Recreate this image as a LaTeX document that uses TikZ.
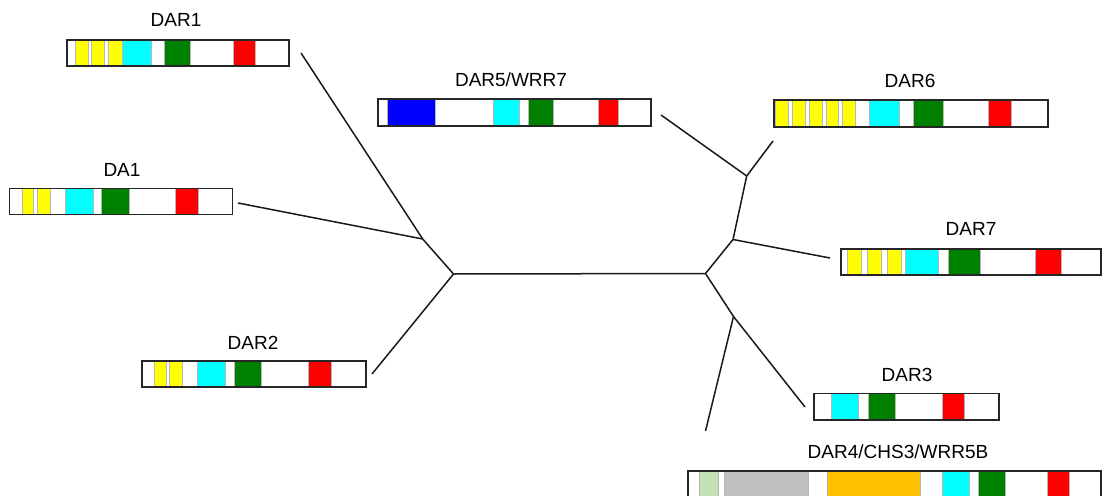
\documentclass[tikz,border=0pt]{standalone}
\usepackage{fontspec}
\setmainfont{Liberation Sans}
\definecolor{dyellow}{HTML}{FFFF00}
\definecolor{dcyan}{HTML}{00FFFF}
\definecolor{dgreen}{HTML}{008000}
\definecolor{dred}{HTML}{FF0000}
\definecolor{dblue}{HTML}{0000FF}
\definecolor{dpale}{HTML}{C5E0B4}
\definecolor{dgrey}{HTML}{BFBFBF}
\definecolor{dorange}{HTML}{FFC000}
% filled domain blocks of one bar: top, bottom, list of x1/x2/colour
\newcommand\domainsegs[3]{%
  \foreach \xa/\xb/\col in {#3} {\filldraw[seg, fill=\col] (\xa,#1) rectangle (\xb,#2);}}
\begin{document}
\begin{tikzpicture}[x=1pt,y=-1pt,
  branch/.style={line width=1.5pt, draw=black!90},
  frame/.style={draw=black!85, line width=1.8pt, fill=none, inner sep=0pt, outer sep=0pt, anchor=north west},
  seg/.style={draw=black!28, line width=0.6pt},
  lbl/.style={font=\fontsize{19}{19}\selectfont, inner sep=0pt}]
\useasboundingbox (0,0) rectangle (1102,495);
\clip (0,0) rectangle (1102,495);

% ---- DAR1
\domainsegs{40}{66}{75.3/88/dyellow, 91.7/104.3/dyellow, 108.7/122/dyellow, 122.7/151.3/dcyan, 164/190.7/dgreen, 233/255/dred}
\node[frame, minimum width=222pt, minimum height=26pt] (dar1) at (67,40) {};
\node[lbl] (ldar1) at (176,20) {DAR1};

% ---- DA1
\domainsegs{188.5}{214.5}{22.3/33.7/dyellow, 37/50/dyellow, 65/93/dcyan, 101.7/129/dgreen, 175.7/198/dred}
\node[frame, minimum width=223pt, minimum height=26pt] (da1) at (9.5,188.5) {};
\node[lbl] (lda1) at (122,170) {DA1};

% ---- DAR2
\domainsegs{361}{387}{154.7/166/dyellow, 169.7/182.3/dyellow, 197.3/225.7/dcyan, 234/261.7/dgreen, 308.7/331/dred}
\node[frame, minimum width=224pt, minimum height=26pt] (dar2) at (142,361) {};
\node[lbl] (ldar2) at (253,343) {DAR2};

% ---- DAR5/WRR7
\domainsegs{99}{126}{387.7/435.3/dblue, 493/519/dcyan, 528/553.3/dgreen, 598/618.7/dred}
\node[frame, minimum width=273pt, minimum height=27pt] (dar5) at (378,99) {};
\node[lbl] (ldar5) at (511,80) {DAR5/WRR7};

% ---- DAR6
\domainsegs{100}{127}{775.7/788.3/dyellow, 792/805/dyellow, 809/822.3/dyellow, 826/838.3/dyellow, 842.7/855.3/dyellow, 869.3/899/dcyan, 913.3/943/dgreen, 988/1011.7/dred}
\node[frame, minimum width=274pt, minimum height=27pt] (dar6) at (774,100) {};
\node[lbl] (ldar6) at (910,81) {DAR6};

% ---- DAR7
\domainsegs{249}{275}{847.7/861.7/dyellow, 867.3/881/dyellow, 887.3/901.3/dyellow, 905.3/938/dcyan, 948.3/980.7/dgreen, 1035.3/1061.7/dred}
\node[frame, minimum width=260pt, minimum height=26pt] (dar7) at (841,249) {};
\node[lbl] (ldar7) at (971,229) {DAR7};

% ---- DAR3
\domainsegs{393.5}{420}{831.3/858.7/dcyan, 868/895/dgreen, 942/964/dred}
\node[frame, minimum width=185pt, minimum height=26.5pt] (dar3) at (814,393.5) {};
\node[lbl] (ldar3) at (907,375) {DAR3};

% ---- DAR4/CHS3/WRR5B (runs past the lower edge)
\domainsegs{471}{500}{699.3/718.7/dpale, 724.7/808/dgrey, 827.7/920.7/dorange, 942.3/969/dcyan, 978.3/1005/dgreen, 1047.7/1069.3/dred}
\node[frame, minimum width=413pt, minimum height=29pt] (dar4) at (688,471) {};
\node[lbl] (ldar4) at (898,452) {DAR4/CHS3/WRR5B};

% ---- unrooted tree
\coordinate (jA) at (422.7,239);
\coordinate (jB) at (453.5,274);
\coordinate (jE) at (705.5,273.5);
\coordinate (jD) at (733,239.5);
\coordinate (jC) at (746.7,176);
\coordinate (jF) at (733.5,316.5);
\coordinate (tdar1) at (301,53);
\coordinate (tda1) at (238,203);
\coordinate (tdar2) at (372,374);
\coordinate (tdar5) at (661,115);
\coordinate (tdar6) at (773,141);
\coordinate (tdar7) at (830,258);
\coordinate (tdar3) at (805,407);
\coordinate (tdar4) at (705.5,431);

\draw[branch] (tdar1) -- (jA);
\draw[branch] (tda1) -- (jA);
\draw[branch] (jA) -- (jB);
\draw[branch] (tdar2) -- (jB);
\draw[branch] (jB) -- (jE);
\draw[branch] (jE) -- (jD);
\draw[branch] (jD) -- (jC);
\draw[branch] (jC) -- (tdar5);
\draw[branch] (jC) -- (tdar6);
\draw[branch] (jD) -- (tdar7);
\draw[branch] (jE) -- (jF);
\draw[branch] (jF) -- (tdar3);
\draw[branch] (jF) -- (tdar4);
\end{tikzpicture}
\end{document}
